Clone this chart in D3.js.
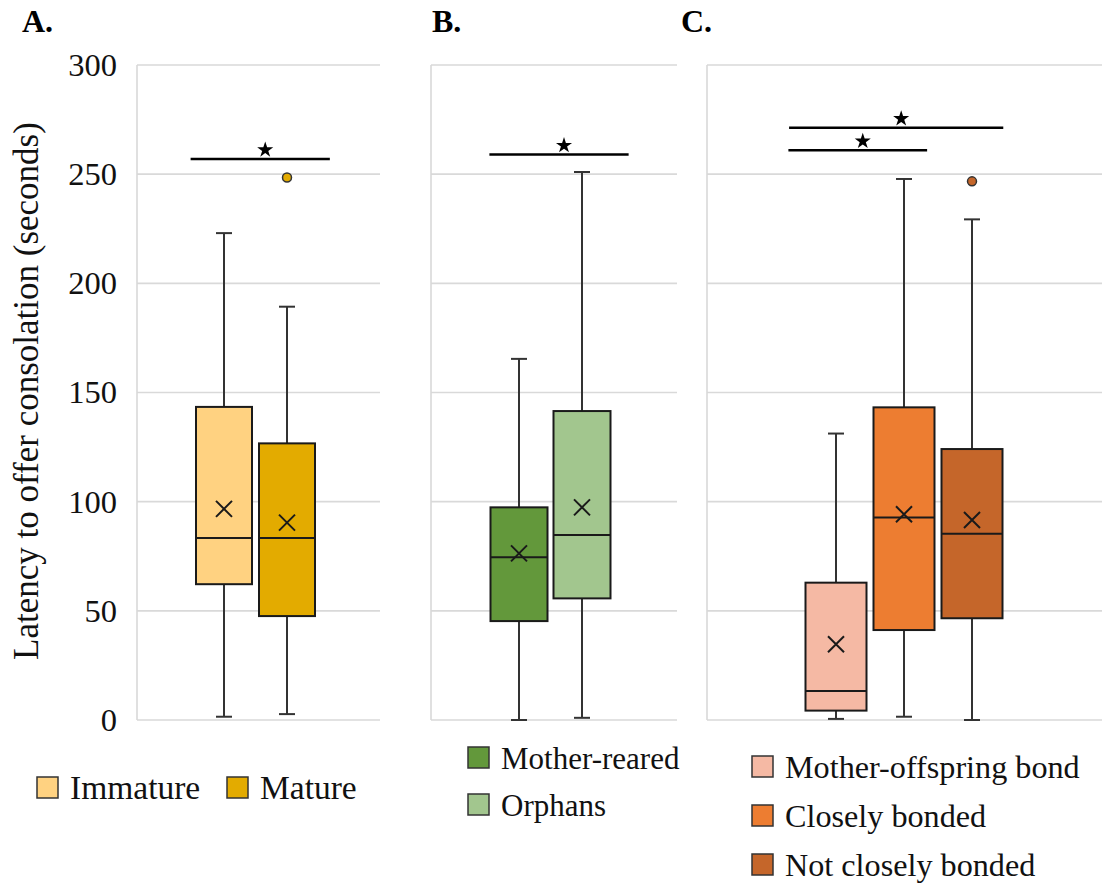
<!DOCTYPE html>
<html>
<head>
<meta charset="utf-8">
<script src="https://cdn.jsdelivr.net/npm/d3@7"></script>
<style>
  body { margin: 0; background: #fff; }
  svg text { font-family: "Liberation Serif", "Times New Roman", serif; fill: #111; }
</style>
</head>
<body>
<svg id="chart" width="1102" height="885"></svg>
<script>
// valores (segundos)
const categories = ["Immature", "Mature", "Mother-reared", "Orphans",
  "Mother-offspring bond", "Closely bonded", "Not closely bonded"];
const panelIds = ["A", "A", "B", "B", "C", "C", "C"];
const whiskerLow = [1.5, 2.7, 0, 1, 0.5, 1.5, 0];
const q1 = [62.2, 47.6, 45.3, 55.7, 4.3, 41.2, 46.6];
const median = [83.4, 83.4, 74.5, 84.7, 13.3, 92.7, 85.3];
const q3 = [143.4, 126.7, 97.4, 141.5, 62.9, 143.2, 124.1];
const whiskerHigh = [223, 189.3, 165.4, 251, 131.2, 247.8, 229.3];
const means = [96.7, 90.4, 76.3, 97.4, 34.7, 94.2, 91.6];
const outliers = [[], [248.5], [], [], [], [], [246.7]];
const yTicks = [0, 50, 100, 150, 200, 250, 300];

// barras de significación: extremos en unidades de categoría del panel
const sigPanel = ["A", "B", "C", "C"];
const sigFrom = [-0.53, -0.47, -0.70, -0.69];
const sigTo = [1.68, 1.74, 1.34, 2.46];
const sigLevel = [257, 259, 261, 271.3];

const fills = ["#FFD281", "#E3AB00", "#63983B", "#A2C68E", "#F5B9A4", "#ED7D31", "#C5662A"];

const PANELS = {
  A: { left: 137, right: 380, c0: 224, step: 63, bw: 56, labelX: 22,
       legend: { horizontal: true, x: [37, 227], y: 777, font: 33.5 } },
  B: { left: 431, right: 677, c0: 519, step: 63, bw: 57, labelX: 432,
       legend: { x: 468, y: 747, gap: 47, font: 31 } },
  C: { left: 707, right: 1102, c0: 836, step: 68, bw: 61, labelX: 681,
       legend: { x: 752, y: 756, gap: 49, font: 32.2 } }
};

const svg = d3.select('#chart');

const y = d3.scaleLinear().domain([0, 300]).range([720, 65]);

const rows = categories.map((c, i) => ({
  name: c, panel: panelIds[i], lo: whiskerLow[i], q1: q1[i], med: median[i],
  q3: q3[i], hi: whiskerHigh[i], mean: means[i], out: outliers[i], fill: fills[i]
}));

Object.keys(PANELS).forEach(function(id) {
  const p = PANELS[id];
  const data = rows.filter(d => d.panel === id);
  const x = d3.scaleLinear()
    .domain([0, 1])
    .range([p.c0, p.c0 + p.step]);
  p.x = x;

  const g = svg.append('g').attr('class', 'panel-' + id);

  // rejilla
  g.selectAll('.grid')
    .data(yTicks)
    .join('line')
    .attr('x1', p.left).attr('x2', p.right)
    .attr('y1', d => y(d)).attr('y2', d => y(d))
    .style('stroke', '#d9d9d9')
    .style('stroke-width', 1.6);

  g.append('line')
    .attr('x1', p.left).attr('x2', p.left)
    .attr('y1', y(300)).attr('y2', y(0))
    .style('stroke', '#d9d9d9')
    .style('stroke-width', 1.6);

  // etiqueta del panel
  svg.append('text')
    .attr('x', p.labelX)
    .attr('y', 32)
    .style('font-size', '32px')
    .style('font-weight', 'bold')
    .style('fill', '#000')
    .text(id + '.');

  const box = g.selectAll('.box')
    .data(data)
    .join('g')
    .attr('class', 'box')
    .attr('transform', (d, i) => 'translate(' + x(i) + ',0)');

  // bigotes
  box.append('line')
    .attr('y1', d => y(d.lo)).attr('y2', d => y(d.hi))
    .style('stroke', '#333').style('stroke-width', 2);
  box.append('line')
    .attr('x1', -8).attr('x2', 8)
    .attr('y1', d => y(d.hi)).attr('y2', d => y(d.hi))
    .style('stroke', '#333').style('stroke-width', 2);
  box.append('line')
    .attr('x1', -8).attr('x2', 8)
    .attr('y1', d => y(d.lo)).attr('y2', d => y(d.lo))
    .style('stroke', '#333').style('stroke-width', 2);

  box.append('rect')
    .attr('x', -p.bw / 2)
    .attr('width', p.bw)
    .attr('y', d => y(d.q3))
    .attr('height', d => y(d.q1) - y(d.q3))
    .style('fill', d => d.fill)
    .style('stroke', '#1a1a1a')
    .style('stroke-width', 2);

  box.append('line')
    .attr('x1', -p.bw / 2).attr('x2', p.bw / 2)
    .attr('y1', d => y(d.med)).attr('y2', d => y(d.med))
    .style('stroke', '#1a1a1a').style('stroke-width', 2);

  // media (X)
  const s = 8;
  box.append('path')
    .attr('d', d => 'M' + (-s) + ',' + (y(d.mean) - s) + 'L' + s + ',' + (y(d.mean) + s) +
      'M' + (-s) + ',' + (y(d.mean) + s) + 'L' + s + ',' + (y(d.mean) - s))
    .style('stroke', '#1a1a1a')
    .style('stroke-width', 2)
    .style('fill', 'none');

  box.selectAll('.outlier')
    .data(d => d.out.map(v => ({ v: v, fill: d.fill })))
    .join('circle')
    .attr('cx', 0)
    .attr('cy', d => y(d.v))
    .attr('r', 4.5)
    .style('fill', d => d.fill)
    .style('stroke', '#333')
    .style('stroke-width', 1.5);

  // leyenda
  const lg = svg.append('g').attr('class', 'legend-' + id);
  data.forEach(function(d, i) {
    const sx = p.legend.horizontal ? p.legend.x[i] : p.legend.x;
    const sy = p.legend.horizontal ? p.legend.y : p.legend.y + i * p.legend.gap;
    lg.append('rect')
      .attr('x', sx).attr('y', sy)
      .attr('width', 21).attr('height', 21)
      .style('fill', d.fill)
      .style('stroke', '#333')
      .style('stroke-width', 1.5);
    lg.append('text')
      .attr('x', sx + 33)
      .attr('y', sy + 22)
      .style('font-size', p.legend.font + 'px')
      .text(d.name);
  });
});

// eje y (solo panel A)
const yAxis = d3.axisLeft(y)
  .tickValues(yTicks)
  .tickSize(0)
  .tickPadding(20);

svg.append('g')
  .attr('transform', 'translate(' + PANELS.A.left + ',0)')
  .call(yAxis)
  .call(g => g.select('.domain').remove())
  .selectAll('text')
  .style('font-family', '"Liberation Serif", "Times New Roman", serif')
  .style('font-size', '32.5px')
  .style('fill', '#111');

svg.append('text')
  .attr('transform', 'translate(38,' + 391 + ') rotate(-90)')
  .style('text-anchor', 'middle')
  .style('font-size', '35px')
  .text('Latency to offer consolation (seconds)');

// barras de significación con estrella
const star = d3.symbol(d3.symbolStar, 80);
sigPanel.forEach(function(id, i) {
  const p = PANELS[id];
  const x1 = p.x(sigFrom[i]);
  const x2 = p.x(sigTo[i]);
  const yy = y(sigLevel[i]);
  svg.append('line')
    .attr('x1', x1).attr('x2', x2)
    .attr('y1', yy).attr('y2', yy)
    .style('stroke', '#000')
    .style('stroke-width', 2.5);
  svg.append('path')
    .attr('d', star())
    .attr('transform', 'translate(' + ((x1 + x2) / 2 + 5) + ',' + (yy - 9) + ')')
    .style('fill', '#000');
});
</script>
</body>
</html>
